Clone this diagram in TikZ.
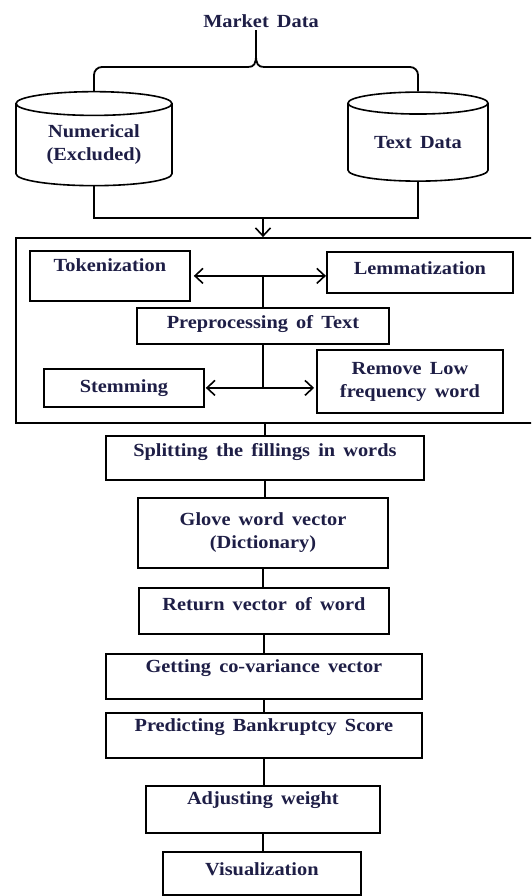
\documentclass[tikz,border=0pt]{standalone}
\usepackage{fontspec}
\setmainfont{Liberation Serif}[FakeStretch=1.1,WordSpace=1.6]
\usetikzlibrary{shapes.geometric,arrows.meta}
\definecolor{txt}{RGB}{30,30,70}
\newcommand\dfs{\fontsize{18.5}{23}\selectfont\bfseries}
\begin{document}
\begin{tikzpicture}[x=1pt,y=-1pt,
  ln/.style={line width=1.8pt,draw=black},
  box/.style={draw,line width=1.8pt,rectangle,inner xsep=0pt,inner ysep=0pt,font=\dfs,text=txt},
  mbox/.style={draw,line width=1.8pt,rectangle,inner sep=0pt,font=\dfs,text=txt,align=center},
  cyl/.style={draw,line width=1.6pt,cylinder,shape border rotate=90,aspect=0.25,inner sep=0pt,font=\dfs,text=txt,align=center},
  barb/.tip={Straight Barb[length=8pt,width=15pt,line width=1.6pt]}
]
\clip (0,0) rectangle (531,896);
\fill[white] (0,0) rectangle (531,896);

% title
\node[font=\dfs,text=txt,anchor=base,inner sep=2pt] (market) at (261,28) {Market Data};

% cylinders
\node[cyl,minimum width=156pt,minimum height=94pt] (num) at (94,145) {Numerical\\(Excluded)};
\node[cyl,minimum width=140pt,minimum height=89pt] (txtd) at (418,142.5) {Text Data};

% brace
\coordinate (bl) at (248,67);
\coordinate (br) at (264,67);
\coordinate (tip) at (256,55);
\draw[ln,rounded corners=8pt] (num.north) |- (bl);
\draw[ln,rounded corners=8pt] (txtd.north) |- (br);
\draw[ln] (bl) .. controls (254,67) and (256,64) .. (tip);
\draw[ln] (br) .. controls (258,67) and (256,64) .. (tip);
\draw[ln] (tip) -- (tip |- market.south);

% big preprocessing frame
\node[draw,line width=1.8pt,rectangle,inner sep=0pt,minimum width=529pt,minimum height=185pt] (big) at (280.5,330.5) {};

% join to frame
\coordinate (j) at (263,218);
\draw[ln] (num.south) -- (num.south |- j) -- (txtd.south |- j) -- (txtd.south);
\draw[ln,-barb] (j) -- (j |- big.north);

% inner boxes
\node[box,anchor=north west,minimum width=160pt,minimum height=50pt,text height=21pt,text depth=29pt] (tok) at (29,250) {Tokenization};
\node[box,anchor=north west,minimum width=186pt,minimum height=41pt,text height=23pt,text depth=18pt] (lem) at (326,251) {Lemmatization};
\node[box,anchor=north west,minimum width=252pt,minimum height=36pt,text height=21pt,text depth=15pt] (pre) at (136,307) {Preprocessing of Text};
\node[box,anchor=north west,minimum width=160pt,minimum height=38pt,text height=24pt,text depth=14pt] (stem) at (43,368) {Stemming};
\node[mbox,minimum width=186pt,minimum height=63pt] (rem) at (410,381.5) {Remove Low\\frequency word};

\draw[ln,barb-barb,shorten <=3pt] (tok.east) -- (tok.east -| lem.west);
\draw[ln] (pre.north) -- (pre.north |- tok.east);
\draw[ln] (pre.south) -- (pre.south |- stem.east);
\draw[ln,barb-barb,shorten <=1pt,shorten >=2pt] (stem.east) -- (stem.east -| rem.west);

% main chain
\node[box,anchor=north west,minimum width=318pt,minimum height=44pt,text height=21pt,text depth=23pt] (split) at (105,435) {Splitting the fillings in words};
\node[mbox,minimum width=250pt,minimum height=70pt] (glove) at (263,533) {Glove word vector\\(Dictionary)};
\node[box,anchor=north west,minimum width=250pt,minimum height=46pt,text height=23pt,text depth=23pt] (ret) at (138,587) {Return vector of word};
\node[box,anchor=north west,minimum width=316pt,minimum height=45pt,text height=19pt,text depth=26pt] (get) at (105,653) {Getting co-variance vector};
\node[box,anchor=north west,minimum width=316pt,minimum height=45pt,text height=19pt,text depth=26pt] (pred) at (105,712) {Predicting Bankruptcy Score};
\node[box,anchor=north west,minimum width=234pt,minimum height=47pt,text height=19pt,text depth=28pt] (adj) at (145,785) {Adjusting weight};
\node[box,anchor=north west,minimum width=198pt,minimum height=43pt,text height=24pt,text depth=19pt] (vis) at (162,851) {Visualization};

\draw[ln] (split.north |- big.south) -- (split.north);
\draw[ln] (split.south) -- (split.south |- glove.north);
\draw[ln] (glove.south) -- (glove.south |- ret.north);
\draw[ln] (ret.south) -- (ret.south |- get.north);
\draw[ln] (get.south) -- (get.south |- pred.north);
\draw[ln] (pred.south) -- (pred.south |- adj.north);
\draw[ln] (adj.south) -- (adj.south |- vis.north);
\end{tikzpicture}
\end{document}
